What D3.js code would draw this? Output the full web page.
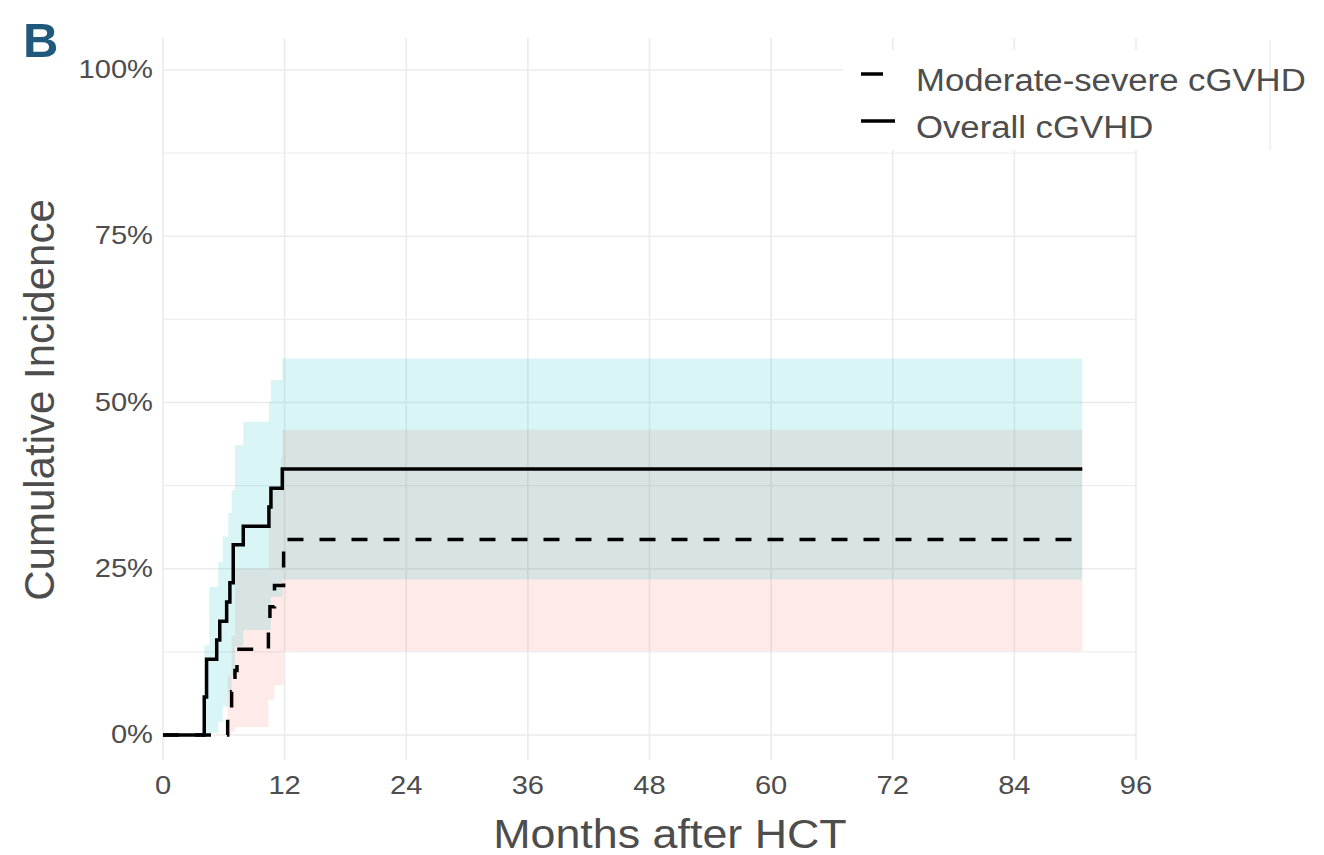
<!DOCTYPE html>
<html>
<head>
<meta charset="UTF-8">
<script src="https://d3js.org/d3.v7.min.js"></script>
<style>
  body { margin: 0; background: #fff; }
  text { font-family: "Liberation Sans", Arial, Helvetica, sans-serif; }
</style>
</head>
<body>
<svg></svg>

<script>
// step curves (months, %)
var overallT = [0, 4.07, 4.3, 5.3, 5.6, 6.28, 6.6, 6.93, 7.92, 10.45, 10.65, 11.77, 90.7];
var overallY = [0, 5.7, 11.4, 14.3, 17.1, 20.0, 22.9, 28.6, 31.4, 34.3, 37.1, 40.0, 40.0];

var modT = [0, 6.38, 6.77, 7.1, 7.3, 10.4, 10.55, 11.0, 11.9, 90.7];
var modY = [0, 3.2, 6.5, 9.7, 12.9, 16.1, 19.3, 22.5, 29.4, 29.4];

// confidence bands
var ovBandT = [0, 4.07, 4.57, 5.45, 5.9, 6.44, 6.77, 7.1, 7.92, 10.45, 10.65, 11.77, 90.7];
var ovLo    = [0, 0.3, 0.3, 2.0, 4.3, 6.3, 9.0, 13.3, 15.8, 15.8, 20.8, 23.4, 23.4];
var ovHi    = [0, 13.5, 22.3, 26.0, 29.8, 33.4, 36.8, 43.6, 47.1, 50.1, 53.4, 56.6, 56.6];

var modBandT = [0, 6.38, 6.77, 7.1, 10.4, 10.45, 11.0, 11.65, 11.77, 11.9, 90.7];
var modLo    = [0, 0, 0.5, 1.2, 5.3, 5.3, 7.5, 7.5, 7.5, 12.6, 12.6];
var modHi    = [0, 9, 15, 25, 25, 36.8, 36.8, 41.6, 45.9, 45.9, 45.9];

var xTicks = [0, 12, 24, 36, 48, 60, 72, 84, 96];
var yTicks = [0, 25, 50, 75, 100];
var yMinor = [12.5, 37.5, 62.5, 87.5];
var seriesNames = ["Moderate-severe cGVHD", "Overall cGVHD"];

var width = 1324, height = 855;
var svg = d3.select("svg").attr("width", width).attr("height", height);

var x = d3.scaleLinear().domain([0, 96]).range([163, 1136]);
var y = d3.scaleLinear().domain([0, 100]).range([735, 70]);
var panelTop = 38, panelBottom = 760;
var txt = "#4D4D4D";
var hStretch = 1.12;

function stretch(sel, f) {
  sel.each(function() {
    var w = this.getComputedTextLength();
    d3.select(this).attr("textLength", w * f).attr("lengthAdjust", "spacingAndGlyphs");
  });
}

function pts(ts, vs) { return ts.map(function(t, i) { return {t: t, v: vs[i]}; }); }
function band(ts, lo, hi) { return ts.map(function(t, i) { return {t: t, lo: lo[i], hi: hi[i]}; }); }

// grid
var grid = svg.append("g");
grid.selectAll(".hmin").data(yMinor).enter().append("line")
  .attr("x1", x(0)).attr("x2", x(96))
  .attr("y1", function(d) { return y(d); }).attr("y2", function(d) { return y(d); })
  .attr("stroke", "#EFEFEF").attr("stroke-width", 1.3);
grid.selectAll(".hmaj").data(yTicks).enter().append("line")
  .attr("x1", x(0)).attr("x2", x(96))
  .attr("y1", function(d) { return y(d); }).attr("y2", function(d) { return y(d); })
  .attr("stroke", "#EBEBEB").attr("stroke-width", 1.6);
grid.selectAll(".vmaj").data(xTicks).enter().append("line")
  .attr("x1", function(d) { return x(d); }).attr("x2", function(d) { return x(d); })
  .attr("y1", panelTop).attr("y2", panelBottom)
  .attr("stroke", "#EBEBEB").attr("stroke-width", 1.6);

// ribbons
var area = d3.area().curve(d3.curveStepAfter)
  .x(function(d) { return x(d.t); })
  .y0(function(d) { return y(d.lo); })
  .y1(function(d) { return y(d.hi); });

svg.append("path").datum(band(modBandT, modLo, modHi))
  .attr("d", area).attr("fill", "#F8766D").attr("fill-opacity", 0.15);
svg.append("path").datum(band(ovBandT, ovLo, ovHi))
  .attr("d", area).attr("fill", "#00BFC4").attr("fill-opacity", 0.15);

// step lines
var line = d3.line().curve(d3.curveStepAfter)
  .x(function(d) { return x(d.t); })
  .y(function(d) { return y(d.v); });

svg.append("path").datum(pts(modT, modY))
  .attr("d", line).attr("fill", "none").attr("stroke", "black")
  .attr("stroke-width", 3.5).attr("stroke-dasharray", "16,16");
svg.append("path").datum(pts(overallT, overallY))
  .attr("d", line).attr("fill", "none").attr("stroke", "black")
  .attr("stroke-width", 3.5);

// axes labels
var xl = svg.append("g").selectAll("text").data(xTicks).enter().append("text")
  .attr("x", function(d) { return x(d); }).attr("y", 794)
  .attr("text-anchor", "middle").attr("font-size", 26).attr("fill", txt)
  .text(function(d) { return d; });
stretch(xl, hStretch);

var yl = svg.append("g").selectAll("text").data(yTicks).enter().append("text")
  .attr("x", 153).attr("y", function(d) { return y(d) + 8; })
  .attr("text-anchor", "end").attr("font-size", 26).attr("fill", txt)
  .text(function(d) { return d + "%"; });
stretch(yl, hStretch);

var xt = svg.append("text").attr("x", 670).attr("y", 848)
  .attr("text-anchor", "middle").attr("font-size", 40).attr("fill", txt)
  .text("Months after HCT");
stretch(xt, hStretch);

svg.append("text").attr("transform", "translate(54,400) rotate(-90)")
  .attr("text-anchor", "middle").attr("font-size", 42).attr("fill", txt)
  .text("Cumulative Incidence");

// panel tag
svg.append("text").attr("x", 23).attr("y", 57)
  .attr("font-size", 49).attr("font-weight", "bold").attr("fill", "#1F5A7C")
  .text("B");

// legend
svg.append("rect").attr("x", 843).attr("y", 50).attr("width", 427).attr("height", 100)
  .attr("fill", "white");
svg.append("line").attr("x1", 1270).attr("x2", 1270).attr("y1", 40).attr("y2", 150)
  .attr("stroke", "#EEEEEE").attr("stroke-width", 1.5);

var legY = [74, 121];
var leg = svg.append("g").selectAll("g").data(seriesNames).enter().append("g");
leg.append("line")
  .attr("x1", 861).attr("x2", 895)
  .attr("y1", function(d, i) { return legY[i]; }).attr("y2", function(d, i) { return legY[i]; })
  .attr("stroke", "black").attr("stroke-width", 3.5)
  .attr("stroke-dasharray", function(d, i) { return i == 0 ? "22,20" : null; });
var lt = leg.append("text")
  .attr("x", 916).attr("y", function(d, i) { return legY[i] + 17; })
  .attr("font-size", 31).attr("fill", txt)
  .text(function(d) { return d; });
stretch(lt, hStretch);
</script>
</body>
</html>
